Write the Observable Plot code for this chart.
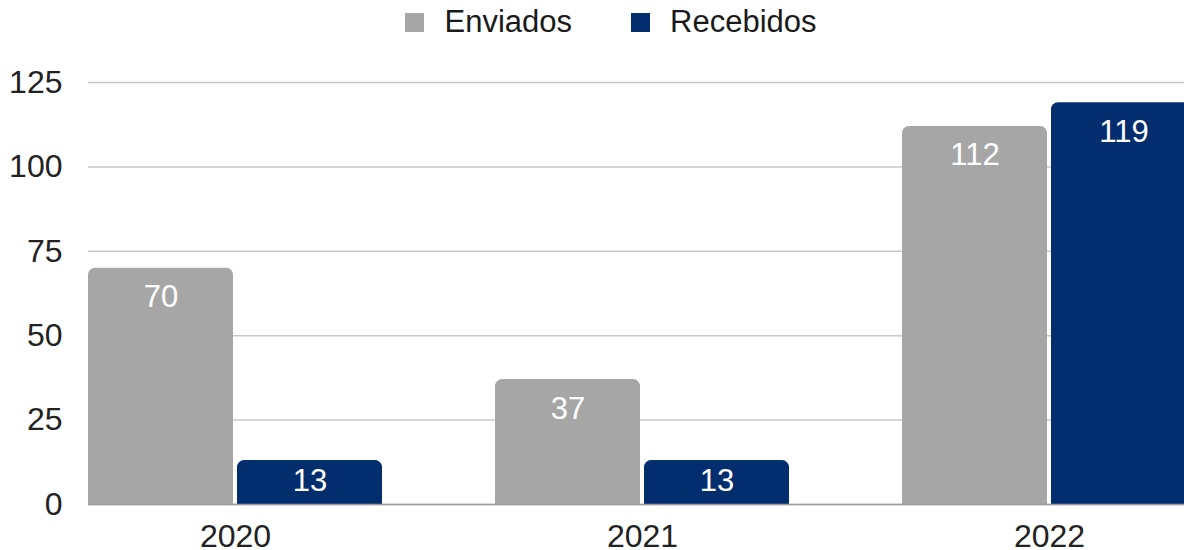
<!DOCTYPE html>
<html><head><meta charset="utf-8">
<script src="https://cdn.jsdelivr.net/npm/d3@7"></script>
<script src="https://cdn.jsdelivr.net/npm/@observablehq/plot@0.6"></script>
<style>
html,body{margin:0;padding:0;background:#fff;overflow:hidden;width:1184px;height:550px}
#legend{height:44px;width:1184px;box-sizing:border-box;padding-left:38px;display:flex;justify-content:center;align-items:center;gap:59px;font:31px "Liberation Sans",Arial,sans-serif;color:#1a1a1a}
.item{display:flex;align-items:center}
.sw{width:19px;height:19px;margin-right:20px}
#chart{width:1184px;overflow:hidden}
</style></head>
<body>
<div id="legend"></div>
<div id="chart"></div>
<script>
const years = ["2020", "2021", "2022"];
const series = ["Enviados", "Recebidos"];
const enviados = [70, 37, 112];
const recebidos = [13, 13, 119];
const colors = ["#a6a6a6", "#032e6e"];
const yTicks = [0, 25, 50, 75, 100, 125];

const dataE = years.map((y, i) => ({year: y, series: series[0], value: enviados[i]}));
const dataR = years.map((y, i) => ({year: y, series: series[1], value: recebidos[i]}));

const legend = document.getElementById("legend");
series.forEach((s, i) => {
  const it = document.createElement("div");
  it.className = "item";
  const sw = document.createElement("span");
  sw.className = "sw";
  sw.style.background = colors[i];
  const t = document.createElement("span");
  t.textContent = s;
  it.appendChild(sw); it.appendChild(t);
  legend.appendChild(it);
});

// band width ≈ 294px; each bar 145px with a 4px gap
const half = 149;
const off = 74.5;
const topRound = d => d.value - 3;
const tall = d => d.value >= 20;
const short = d => d.value < 20;

function labels(data, dx) {
  return [
    Plot.text(data.filter(tall), {x: "year", y: "value", text: d => String(d.value), dx, dy: 29, fill: "white", fontSize: 31}),
    Plot.text(data.filter(short), {x: "year", y: d => d.value / 2, text: d => String(d.value), dx, dy: -1, fill: "white", fontSize: 31})
  ];
}

const chart = Plot.plot({
  width: 1196,
  height: 506,
  marginLeft: 88,
  marginRight: 0,
  marginTop: 38,
  marginBottom: 46,
  style: {fontFamily: "'Liberation Sans', Arial, sans-serif", fontSize: "32px", color: "#222", background: "white", overflow: "visible", maxWidth: "none"},
  x: {domain: years, paddingInner: 0.278, paddingOuter: 0, label: null, tickSize: 0, tickPadding: 20},
  y: {domain: [0, 125], ticks: yTicks, tickSize: 0, tickPadding: 26, label: null},
  color: {domain: series, range: colors},
  marks: [
    Plot.ruleY(yTicks, {stroke: "#c9c9c9", strokeWidth: 1.5}),
    Plot.barY(dataE, {x: "year", y: "value", fill: "series", rx: 7, insetRight: half}),
    Plot.barY(dataE, {x: "year", y1: 0, y2: topRound, fill: "series", insetRight: half}),
    Plot.barY(dataR, {x: "year", y: "value", fill: "series", rx: 7, insetLeft: half}),
    Plot.barY(dataR, {x: "year", y1: 0, y2: topRound, fill: "series", insetLeft: half}),
    Plot.ruleY([0], {stroke: "#9a9a9a", strokeWidth: 1.5}),
    ...labels(dataE, -off),
    ...labels(dataR, off)
  ]
});
document.getElementById("chart").appendChild(chart);
</script>
</body></html>
